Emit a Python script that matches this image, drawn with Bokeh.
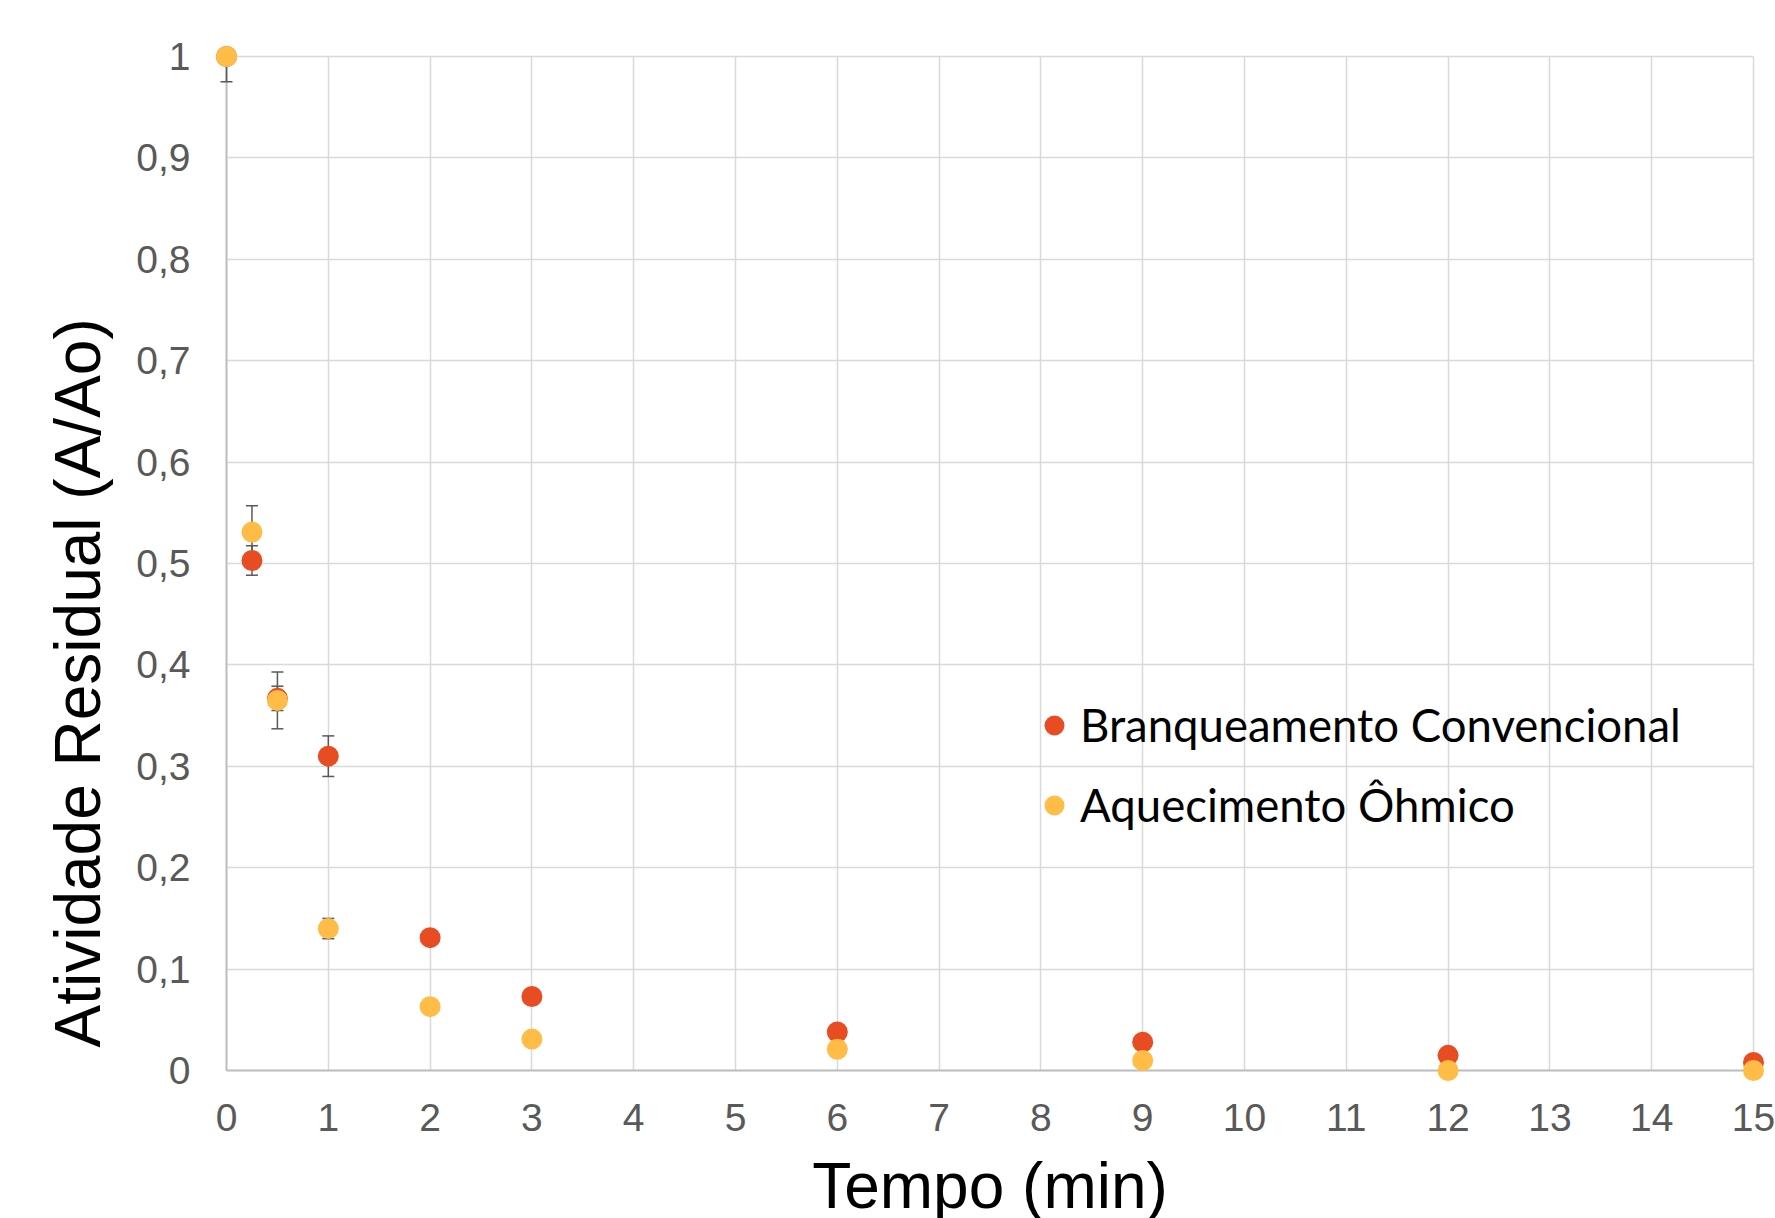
from bokeh.plotting import figure
from bokeh.models import (Range1d, FixedTicker, CustomJSTickFormatter, Whisker, TeeHead,
                          ColumnDataSource, Legend, LegendItem, Title, Grid)
from bokeh.embed import file_html
from bokeh.resources import INLINE

# ---------------- data ----------------
tempo = [0, 0.25, 0.5, 1, 2, 3, 6, 9, 12, 15]
conv = [1.0, 0.503, 0.367, 0.310, 0.131, 0.073, 0.038, 0.028, 0.015, 0.008]
ohm = [1.0, 0.531, 0.365, 0.140, 0.063, 0.031, 0.021, 0.010, 0.0, 0.0]
conv_err = [0.025, 0.0145, 0.012, 0.020, 0, 0, 0, 0, 0, 0]
ohm_err = [0, 0.026, 0.028, 0.010, 0, 0, 0, 0, 0, 0]
x_ticks = list(range(0, 16))
y_ticks = [0, 0.1, 0.2, 0.3, 0.4, 0.5, 0.6, 0.7, 0.8, 0.9, 1]
series_names = ["Branqueamento Convencional", "Aquecimento Ôhmico"]
x_title = "Tempo (min)"
y_title = "Atividade Residual (A/Ao)"

RED = "#E84C22"
YEL = "#FFBC47"
GRID = "#D9D9D9"
AXIS = "#BFBFBF"
TICKC = "#595959"

xmin, xmax = x_ticks[0], x_ticks[-1]
ymin, ymax = y_ticks[0], y_ticks[-1]
xpad = 0.118
ypad = 0.0118

p = figure(width=1775, height=1240,
           x_range=Range1d(xmin - xpad, xmax + xpad),
           y_range=Range1d(ymin - ypad, ymax + ypad),
           output_backend="svg", toolbar_location=None,
           min_border_left=214, min_border_right=10,
           min_border_top=44, min_border_bottom=158)
p.outline_line_color = None
p.background_fill_color = "white"

# axes
for ax in (p.xaxis[0], p.yaxis[0]):
    ax.axis_line_color = None
    ax.major_tick_line_color = None
    ax.minor_tick_line_color = None
    ax.major_tick_out = 0
    ax.major_tick_in = 0
    ax.major_label_text_font = "Liberation Sans"
    ax.major_label_text_font_size = "39px"
    ax.major_label_text_color = TICKC
p.xaxis.ticker = FixedTicker(ticks=x_ticks)
p.yaxis.ticker = FixedTicker(ticks=y_ticks)
p.xaxis.major_label_standoff = 21
p.yaxis.major_label_standoff = 24
p.yaxis.formatter = CustomJSTickFormatter(
    code="const s = (Math.round(tick*10)/10).toString(); return s.replace('.', ',');")

p.xaxis.axis_label = x_title
p.xaxis.axis_label_text_font = "Liberation Sans"
p.xaxis.axis_label_text_font_size = "64px"
p.xaxis.axis_label_text_font_style = "normal"
p.xaxis.axis_label_text_color = "black"
p.xaxis.axis_label_standoff = 16

# grids
has_cb = "cross_bounds" in Grid.properties()
p.xgrid.ticker = FixedTicker(ticks=x_ticks)
p.ygrid.ticker = FixedTicker(ticks=y_ticks)
for g in (p.xgrid[0], p.ygrid[0]):
    g.grid_line_color = GRID
    g.grid_line_width = 1.5
if has_cb:
    p.xgrid.cross_bounds = (ymin, ymax)
    p.ygrid.cross_bounds = (xmin, xmax)
    gx0 = Grid(dimension=0, ticker=FixedTicker(ticks=[xmin]), grid_line_color=AXIS,
               grid_line_width=2, cross_bounds=(ymin, ymax))
    gy0 = Grid(dimension=1, ticker=FixedTicker(ticks=[ymin]), grid_line_color=AXIS,
               grid_line_width=2, cross_bounds=(xmin, xmax))
    p.add_layout(gx0)
    p.add_layout(gy0)

# error bars
def whisk_source(ys, errs):
    xs, lo, up = [], [], []
    for x, y, e in zip(tempo, ys, errs):
        if e > 0:
            xs.append(x)
            lo.append(max(y - e, ymin))
            up.append(min(y + e, ymax))
    return ColumnDataSource(dict(x=xs, lower=lo, upper=up))

for ys, errs in ((conv, conv_err), (ohm, ohm_err)):
    w = Whisker(source=whisk_source(ys, errs), base="x", lower="lower", upper="upper",
                line_color=TICKC, line_width=1.5, level="underlay",
                upper_head=TeeHead(size=12, line_color=TICKC, line_width=1.5),
                lower_head=TeeHead(size=12, line_color=TICKC, line_width=1.5))
    p.add_layout(w)

src = ColumnDataSource(dict(x=tempo, conv=conv, ohm=ohm))
r1 = p.scatter("x", "conv", source=src, size=21, fill_color=RED, line_color=None)
r2 = p.scatter("x", "ohm", source=src, size=21, fill_color=YEL, line_color=None)

legend = Legend(items=[LegendItem(label=series_names[0], renderers=[r1]),
                       LegendItem(label=series_names[1], renderers=[r2])],
                location=(815, 250), glyph_width=50, glyph_height=50,
                label_standoff=1, spacing=25, padding=0, margin=0,
                background_fill_alpha=0, border_line_color=None,
                label_text_font="Lato", label_text_font_size="45.5px",
                label_text_color="black")
p.add_layout(legend)

ytitle = Title(text=y_title, align="left", offset=35, standoff=40,
               vertical_align="bottom",
               text_font="Liberation Sans", text_font_size="64px",
               text_font_style="normal", text_color="black")
p.add_layout(ytitle, "left")

open("out.html", "w").write(file_html(p, INLINE))
